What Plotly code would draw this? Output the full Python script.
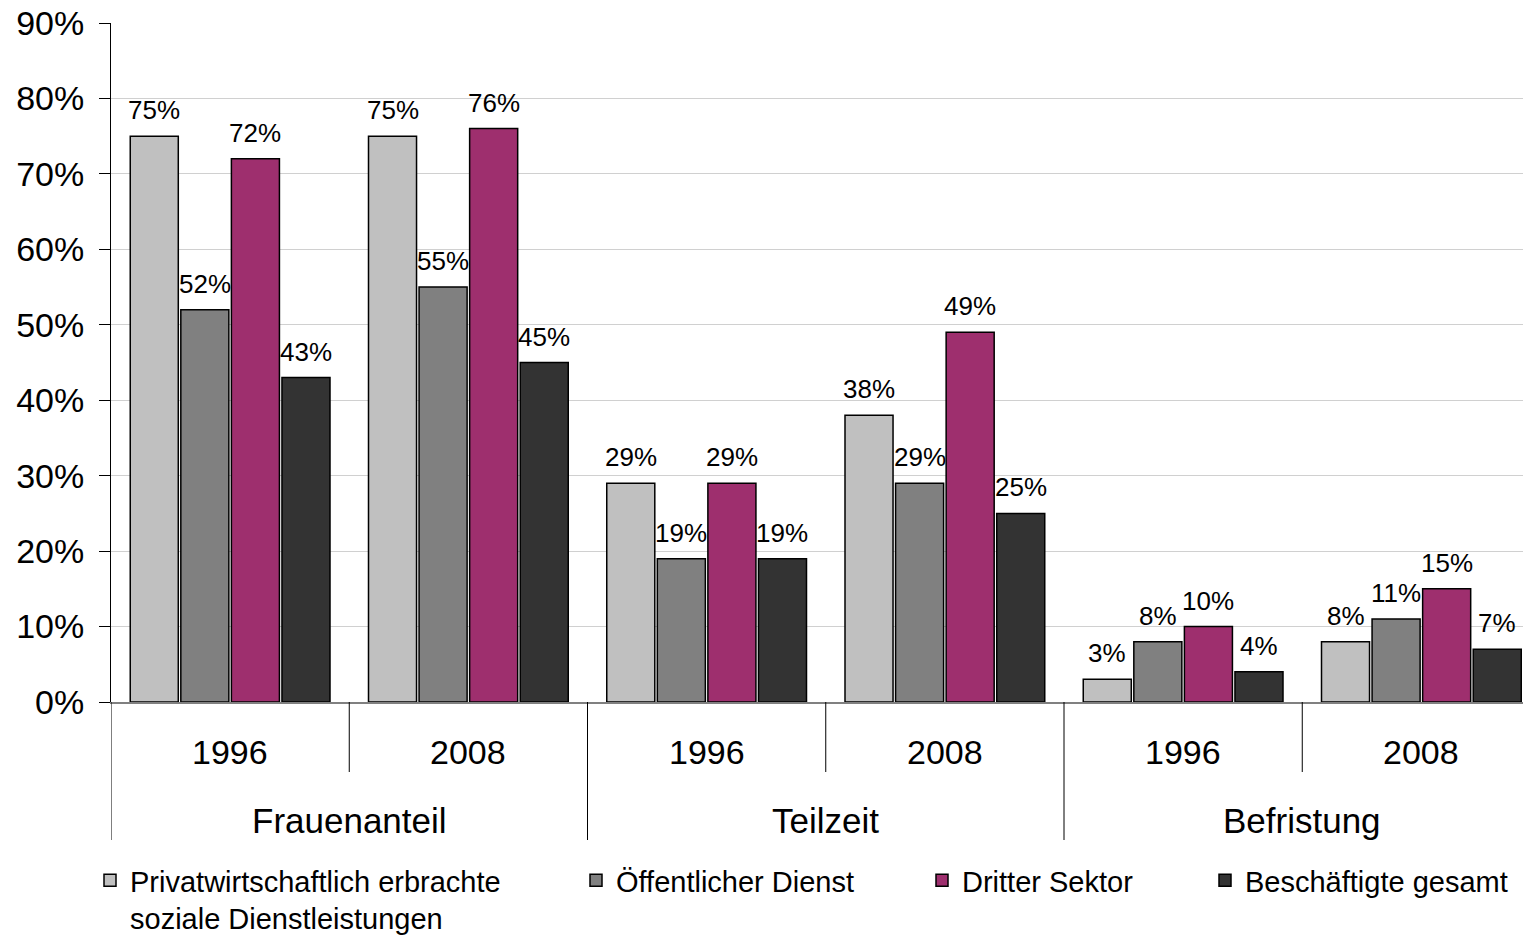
import plotly.graph_objects as go

# ---- data ----
groups = ["Frauenanteil", "Teilzeit", "Befristung"]
years = ["1996", "2008", "1996", "2008", "1996", "2008"]
series_names = [
    "Privatwirtschaftlich erbrachte<br>soziale Dienstleistungen",
    "Öffentlicher Dienst",
    "Dritter Sektor",
    "Beschäftigte gesamt",
]
privat = [75, 75, 29, 38, 3, 8]
oeffentlich = [52, 55, 19, 29, 8, 11]
dritter = [72, 76, 29, 49, 10, 15]
gesamt = [43, 45, 19, 25, 4, 7]
y_ticks = [0, 10, 20, 30, 40, 50, 60, 70, 80, 90]

colors = ["#C0C0C0", "#808080", "#9E2F6E", "#333333"]
series_values = [privat, oeffentlich, dritter, gesamt]

FONT = "Liberation Sans, Arial, sans-serif"
W, H = 1523, 940
ML, MT, MB = 111, 23, 238
PW = W - ML
PH = H - MT - MB
GROUP_PX = 238.25
BARGAP = 0.151
BARGROUPGAP = 0.05

x_idx = list(range(len(years)))
n_series = len(series_values)
slot = (1 - BARGAP) / n_series

fig = go.Figure()
legend_x_px = [130, 616, 962, 1245]
legend_keys = ["legend", "legend2", "legend3", "legend4"]
for i, (name, vals, col) in enumerate(zip(series_names, series_values, colors)):
    fig.add_trace(go.Bar(
        x=x_idx, y=vals, name=name,
        marker=dict(color=col, line=dict(color="black", width=1.5)),
        legend=legend_keys[i],
    ))
    # value labels above each bar
    for k, v in zip(x_idx, vals):
        xc = k - (1 - BARGAP) / 2 + (i + 0.5) * slot
        fig.add_annotation(x=xc, y=v, xref="x", yref="y", text=f"{v}%",
                           showarrow=False, yanchor="bottom", yshift=9,
                           font=dict(family=FONT, size=26, color="black"))

layout_legends = {}
for key, px in zip(legend_keys, legend_x_px):
    layout_legends[key] = dict(
        x=(px - 40 - ML) / PW, xanchor="left",
        y=(702 - 855) / PH, yanchor="top",
        orientation="h", valign="top",
        font=dict(family=FONT, size=29, color="black"),
        bgcolor="rgba(0,0,0,0)", borderwidth=0,
    )

fig.update_layout(
    width=W, height=H,
    margin=dict(l=ML, r=0, t=MT, b=MB, pad=0, autoexpand=False),
    paper_bgcolor="white", plot_bgcolor="white",
    barmode="group", bargap=BARGAP, bargroupgap=BARGROUPGAP,
    font=dict(family=FONT, color="black"),
    showlegend=True,
    **layout_legends,
)

x_end = -0.5 + PW / GROUP_PX
fig.update_xaxes(
    range=[-0.5, x_end], showticklabels=False, ticks="",
    showgrid=False, zeroline=False,
    showline=True, linecolor="#808080", linewidth=1.5,
)
fig.update_yaxes(
    range=[0, 90], tickvals=y_ticks, ticktext=[f"{v}%" for v in y_ticks],
    tickfont=dict(family=FONT, size=34, color="black"),
    ticks="outside", ticklen=11, tickcolor="black", tickwidth=1,
    ticklabelstandoff=8,
    showgrid=True, gridcolor="#D0D0D0", gridwidth=1,
    zeroline=False, showline=True, linecolor="black", linewidth=1,
)

# category axis decorations (dividers and labels)
short_y = (702 - 772) / PH
long_y = (702 - 840) / PH
for k in range(len(years)):
    boundary = k - 0.5
    bottom = long_y if k % 2 == 0 else short_y
    fig.add_shape(type="line", xref="x", yref="paper",
                  x0=boundary, x1=boundary, y0=0, y1=bottom,
                  line=dict(color="black", width=1))
    fig.add_annotation(x=k, xref="x", y=(702 - 752) / PH, yref="paper",
                       text=years[k], showarrow=False, yanchor="middle",
                       font=dict(family=FONT, size=34, color="black"))
for g, name in enumerate(groups):
    fig.add_annotation(x=2 * g + 0.5, xref="x", y=(702 - 820) / PH, yref="paper",
                       text=name, showarrow=False, yanchor="middle",
                       font=dict(family=FONT, size=35, color="black"))

fig.write_html("out.html")
